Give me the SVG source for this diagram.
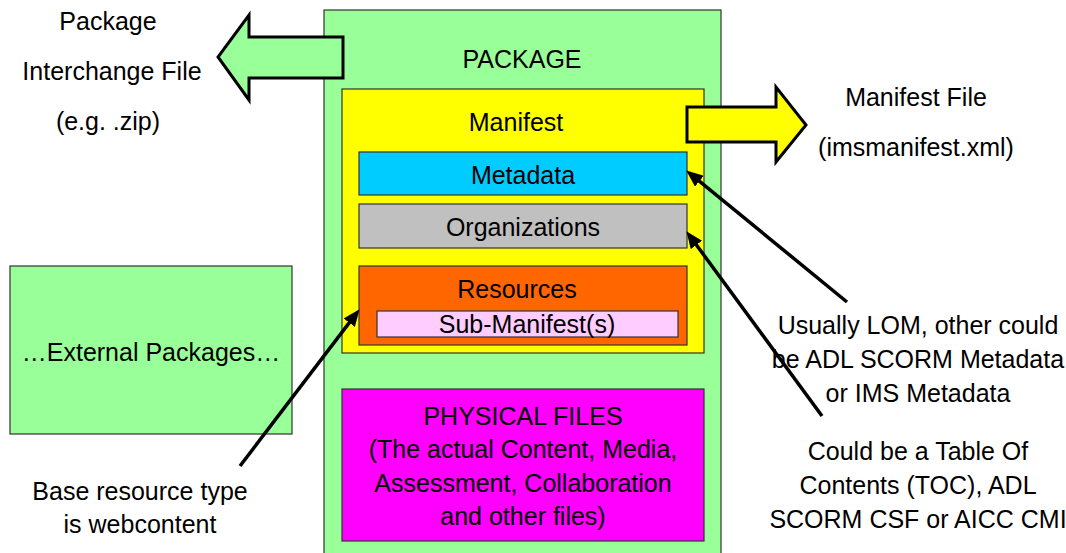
<svg xmlns="http://www.w3.org/2000/svg" width="1066" height="553" viewBox="0 0 1066 553">
<defs>
<style>
text{font-family:"Liberation Sans",Arial,sans-serif;font-size:25px;fill:#000;text-anchor:middle}
.box{stroke:#333;stroke-width:1.2}
.big{stroke:#000;stroke-width:3;stroke-linejoin:miter}
.conn{stroke:#000;stroke-width:3.5;fill:none;marker-end:url(#ah)}
</style>
<marker id="ah" markerUnits="userSpaceOnUse" viewBox="0 0 17 14" markerWidth="17" markerHeight="14" refX="8" refY="7" orient="auto">
<path d="M0,0 L17,7 L0,14 z" fill="#000"/>
</marker>
</defs>
<rect width="1066" height="553" fill="#fff"/>
<g id="package">
<rect class="box" x="324" y="10" width="397" height="560" fill="#99FF99"/>
<text x="522" y="68">PACKAGE</text>
</g>
<g id="interchange-arrow">
<polygon class="big" points="343,37 249,37 249,15 218,57 249,100 249,78 343,78" fill="#99FF99"/>
</g>
<g id="interchange-label">
<text x="108" y="30">Package</text>
<text x="112" y="80">Interchange File</text>
<text x="108" y="130">(e.g. .zip)</text>
</g>
<g id="manifest">
<rect class="box" x="342" y="89" width="362" height="264" fill="#FFFF00"/>
<text x="516" y="131">Manifest</text>
</g>
<g id="manifest-arrow">
<polygon class="big" points="687,107 776,107 776,87 806,125 776,162 776,142 687,142" fill="#FFFF00"/>
</g>
<g id="manifest-label">
<text x="916" y="106">Manifest File</text>
<text x="916" y="156">(imsmanifest.xml)</text>
</g>
<g id="metadata">
<rect class="box" x="359" y="152" width="328" height="43" fill="#00CCFF"/>
<text x="523" y="184">Metadata</text>
</g>
<g id="organizations">
<rect class="box" x="359" y="204" width="328" height="44" fill="#C0C0C0"/>
<text x="523" y="236">Organizations</text>
</g>
<g id="resources">
<rect class="box" x="359" y="266" width="328" height="79" fill="#FF6600"/>
<text x="517" y="298">Resources</text>
</g>
<g id="sub-manifest">
<rect class="box" x="377" y="311" width="301" height="26" fill="#FFCCFF"/>
<text x="527" y="333">Sub-Manifest(s)</text>
</g>
<g id="physical-files">
<rect class="box" x="342" y="389" width="362" height="152" fill="#FF00FF"/>
<text x="523" y="425">PHYSICAL FILES</text>
<text x="523" y="458">(The actual Content, Media,</text>
<text x="523" y="492">Assessment, Collaboration</text>
<text x="523" y="525">and other files)</text>
</g>
<g id="external-packages">
<rect class="box" x="10" y="266" width="282" height="168" fill="#99FF99"/>
<text x="151" y="361">…External Packages…</text>
</g>
<g id="base-resource-label">
<text x="140" y="500">Base resource type</text>
<text x="140" y="533">is webcontent</text>
</g>
<g id="metadata-note">
<text x="918" y="334">Usually LOM, other could</text>
<text x="918" y="368">be ADL SCORM Metadata</text>
<text x="918" y="402">or IMS Metadata</text>
</g>
<g id="organizations-note">
<text x="918" y="460">Could be a Table Of</text>
<text x="918" y="494">Contents (TOC), ADL</text>
<text x="918" y="528">SCORM CSF or AICC CMI</text>
</g>
<g id="connectors">
<line class="conn" x1="240" y1="466" x2="354.1" y2="316.4"/>
<line class="conn" x1="847" y1="302" x2="693.2" y2="176.1"/>
<line class="conn" x1="822" y1="416" x2="691.7" y2="238.5"/>
</g>
</svg>
